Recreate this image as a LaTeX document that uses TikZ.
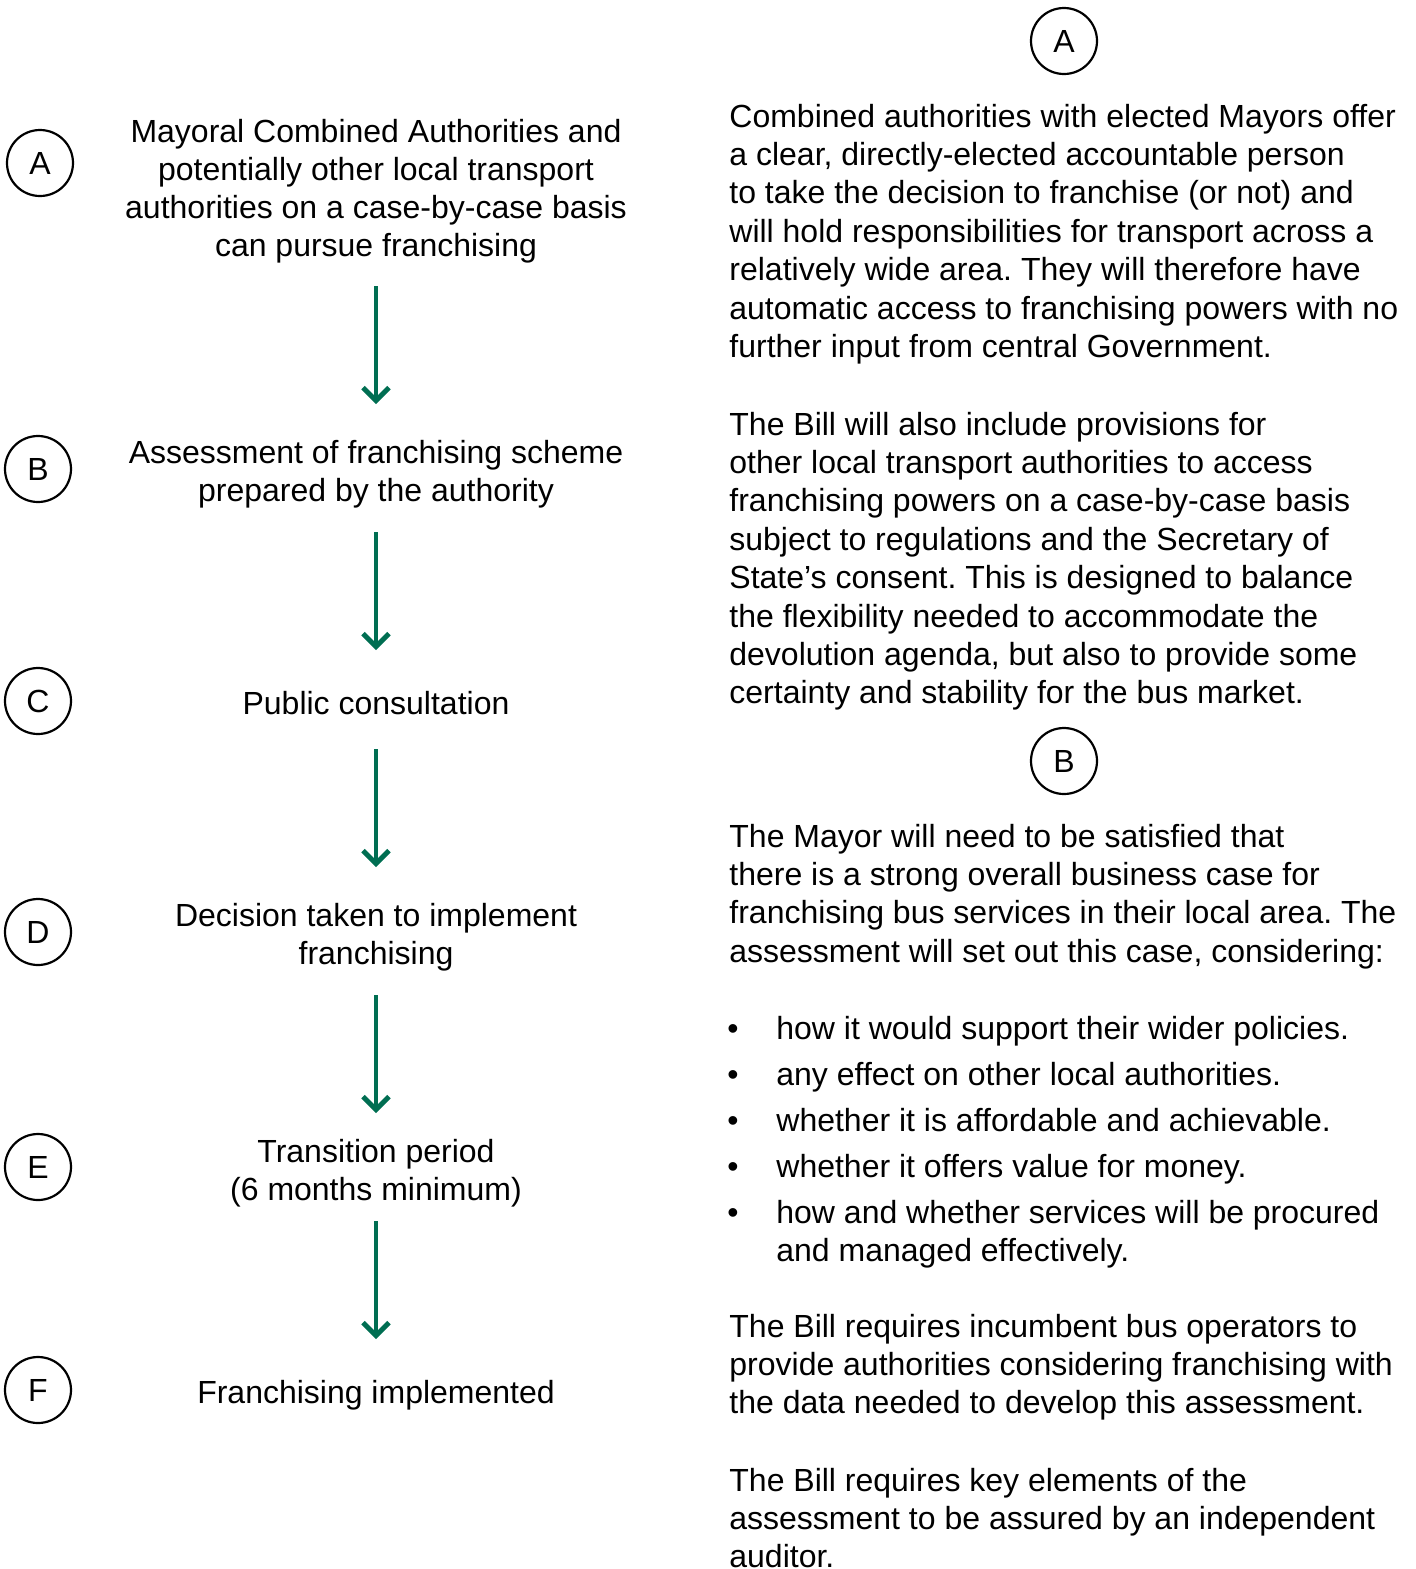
\documentclass[tikz,border=0pt]{standalone}
\usepackage{fontspec}
\setmainfont{Liberation Sans}
\usetikzlibrary{arrows.meta}
\frenchspacing
\definecolor{flowgreen}{RGB}{0,110,82}
\newcommand{\rparaA}[3]{%
  \foreach \t [count=\i from 0] in {#3} {
    \node[txt,anchor=base west] (#1-\i) at (729,#2+38.4*\i) {\t};
  }}
\newcommand{\lparaA}[3]{%
  \foreach \t [count=\i from 0] in {#3} {
    \node[txt,anchor=base] (#1-\i) at (376,#2+38.3*\i) {\t};
  }}
\begin{document}
\frenchspacing
\begin{tikzpicture}[x=0.5pt,y=-0.5pt,
  txt/.style={inner sep=0pt,font=\fontsize{16}{19.2}\selectfont\frenchspacing},
  letter/.style={circle,draw,line width=1.1pt,minimum size=33pt,inner sep=0pt,font=\fontsize{16}{19.2}\selectfont},
  flow/.style={draw=flowgreen,line width=2.4pt,-{Straight Barb[length=6.5pt,width=13pt]}}]
\useasboundingbox (0,0) rectangle (1415,1569);

% left column letters
\node[letter] (cA) at (40,163) {A};
\node[letter] (cB) at (38,469) {B};
\node[letter] (cC) at (38,701) {C};
\node[letter] (cD) at (38,932) {D};
\node[letter] (cE) at (38,1167) {E};
\node[letter] (cF) at (38,1390) {F};

% left column texts
\lparaA{la}{142}{{Mayoral Combined Authorities and},{potentially other local transport},{authorities on a case-by-case basis},{can pursue franchising}}
\lparaA{lb}{463}{{Assessment of franchising scheme},{prepared by the authority}}
\lparaA{lc}{714}{{Public consultation}}
\lparaA{ld}{926}{{Decision taken to implement},{franchising}}
\lparaA{le}{1162}{{Transition period},{(6 months minimum)}}
\lparaA{lf}{1403}{{Franchising implemented}}

% arrows
\coordinate (a1s) at (376,286); \coordinate (a1e) at (376,404);
\coordinate (a2s) at (376,532); \coordinate (a2e) at (376,650);
\coordinate (a3s) at (376,749); \coordinate (a3e) at (376,867);
\coordinate (a4s) at (376,995); \coordinate (a4e) at (376,1113);
\coordinate (a5s) at (376,1221); \coordinate (a5e) at (376,1339);
\draw[flow] (a1s) -- (a1e);
\draw[flow] (a2s) -- (a2e);
\draw[flow] (a3s) -- (a3e);
\draw[flow] (a4s) -- (a4e);
\draw[flow] (a5s) -- (a5e);

% right column
\node[letter] (rA) at (1064,41) {A};
\node[letter] (rB) at (1064,761) {B};

\rparaA{p1}{127}{{Combined authorities with elected Mayors offer},{a clear, directly-elected accountable person},{to take the decision to franchise (or not) and},{will hold responsibilities for transport across a},{relatively wide area. They will therefore have},{automatic access to franchising powers with no},{further input from central Government.}}

\rparaA{p2}{435}{{The Bill will also include provisions for},{other local transport authorities to access},{franchising powers on a case-by-case basis},{subject to regulations and the Secretary of},{State’s consent. This is designed to balance},{the flexibility needed to accommodate the},{devolution agenda, but also to provide some},{certainty and stability for the bus market.}}

\rparaA{p3}{847}{{The Mayor will need to be satisfied that},{there is a strong overall business case for},{franchising bus services in their local area. The},{assessment will set out this case, considering:}}

% bullets
\foreach \t/\y [count=\i] in {{how it would support their wider policies.}/1039,{any effect on other local authorities.}/1085,{whether it is affordable and achievable.}/1131,{whether it offers value for money.}/1177,{how and whether services will be procured}/1223} {
  \node[txt,anchor=base west] (bd-\i) at (727,\y) {•};
  \node[txt,anchor=base west] (bt-\i) at (776,\y) {\t};
}
\node[txt,anchor=base west] (bt-6) at (776,1261) {and managed effectively.};

\rparaA{p4}{1337}{{The Bill requires incumbent bus operators to},{provide authorities considering franchising with},{the data needed to develop this assessment.}}

\rparaA{p5}{1491}{{The Bill requires key elements of the},{assessment to be assured by an independent},{auditor.}}
\end{tikzpicture}
\end{document}
